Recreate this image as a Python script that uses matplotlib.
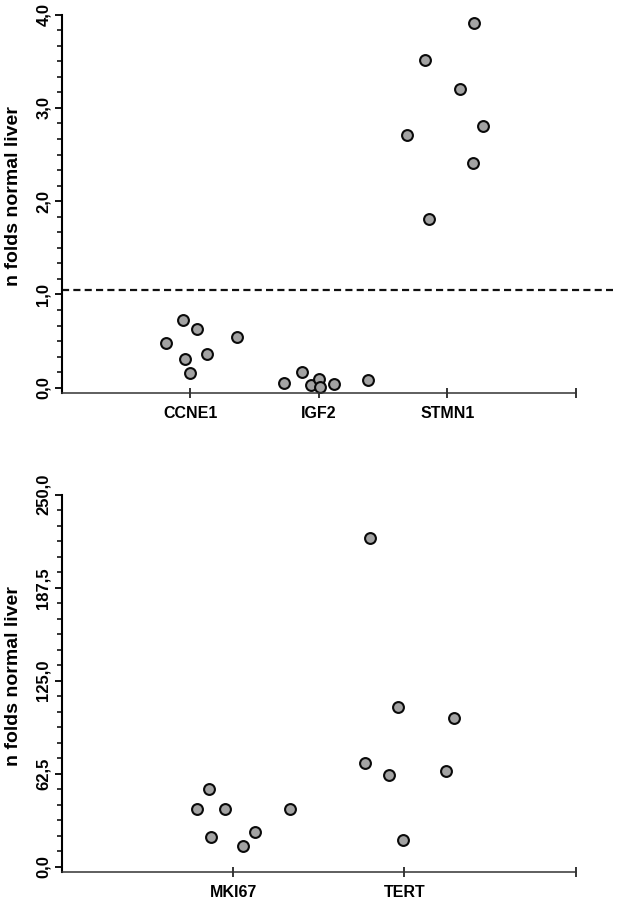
import matplotlib
matplotlib.use('Agg')
import matplotlib.pyplot as plt
from matplotlib.ticker import MultipleLocator, FuncFormatter

plt.rcParams['font.family'] = ['Liberation Sans', 'DejaVu Sans']

# top panel: CCNE1, IGF2, STMN1 (x = jittered category position)
top_genes = ['CCNE1', 'IGF2', 'STMN1']
ccne1_x = [0.81, 0.94, 1.05, 1.36, 0.96, 1.13, 1.00]
ccne1_y = [0.48, 0.73, 0.63, 0.54, 0.31, 0.36, 0.16]
igf2_x = [1.73, 1.87, 1.94, 2.00, 2.01, 2.12, 2.38]
igf2_y = [0.05, 0.165, 0.03, 0.09, 0.01, 0.04, 0.085]
stmn1_x = [3.21, 2.83, 3.10, 3.28, 2.69, 3.20, 2.86]
stmn1_y = [3.91, 3.51, 3.20, 2.81, 2.71, 2.41, 1.81]
cutoff = 1.05

# bottom panel: MKI67, TERT
bottom_genes = ['MKI67', 'TERT']
mki67_x = [0.86, 0.79, 0.95, 1.33, 0.87, 1.13, 1.06]
mki67_y = [52.0, 38.5, 38.5, 38.5, 20.2, 23.1, 14.1]
tert_x = [1.80, 1.96, 2.29, 1.77, 1.91, 2.24, 1.99]
tert_y = [221.0, 107.5, 99.7, 69.5, 61.4, 64.3, 18.1]

marker = dict(linestyle='none', marker='o', markersize=7.8,
              markerfacecolor='#a3a3a3', markeredgecolor='#0a0a0a',
              markeredgewidth=1.5)
comma = FuncFormatter(lambda v, p: ('%.1f' % v).replace('.', ','))

fig = plt.figure(figsize=(6.17, 9), dpi=100)


def style(ax, ymax, ybottom, major, ncat):
    ax.set_xlim(0, ncat + 1)
    ax.set_ylim(ybottom, ymax)
    for s in ['top', 'right']:
        ax.spines[s].set_visible(False)
    ax.spines['left'].set_linewidth(1.5)
    ax.spines['bottom'].set_linewidth(1.1)
    ax.spines['bottom'].set_color('#333333')
    ax.yaxis.set_major_locator(MultipleLocator(major))
    ax.yaxis.set_minor_locator(MultipleLocator(major / 6))
    ax.yaxis.set_major_formatter(comma)
    ax.tick_params(axis='y', which='major', length=5, width=1.3, pad=3,
                   labelsize=12, labelrotation=90)
    ax.tick_params(axis='y', which='minor', length=3.5, width=1.1)
    for lab in ax.get_yticklabels():
        lab.set_fontweight('bold')
        lab.set_va('center')
    ax.set_xticks(list(range(1, ncat + 2)))
    ax.tick_params(axis='x', direction='inout', length=7, width=1.1,
                   pad=6, labelsize=11.5)
    ax.set_ylabel('n folds normal liver', fontsize=14, fontweight='bold')
    ax.yaxis.set_label_coords(-0.078, 0.52)


ax1 = fig.add_axes([0.1005, 0.5633, 0.8325, 0.4204])
ax1.plot(ccne1_x, ccne1_y, **marker)
ax1.plot(igf2_x, igf2_y, **marker)
ax1.plot(stmn1_x, stmn1_y, **marker)
ax1.plot([0, 4.29], [cutoff, cutoff], color='#111111', linewidth=1.6,
         linestyle=(0, (3.2, 1.9)), clip_on=False)
style(ax1, 4.0, -0.057, 1.0, len(top_genes))
ax1.set_xticklabels(top_genes + [''], fontweight='bold')

ax2 = fig.add_axes([0.1005, 0.0311, 0.8325, 0.4192])
ax2.plot(mki67_x, mki67_y, **marker)
ax2.plot(tert_x, tert_y, **marker)
style(ax2, 250.0, -3.6, 62.5, len(bottom_genes))
ax2.set_xticklabels(bottom_genes + [''], fontweight='bold')

fig.savefig('out.png', dpi=100)
